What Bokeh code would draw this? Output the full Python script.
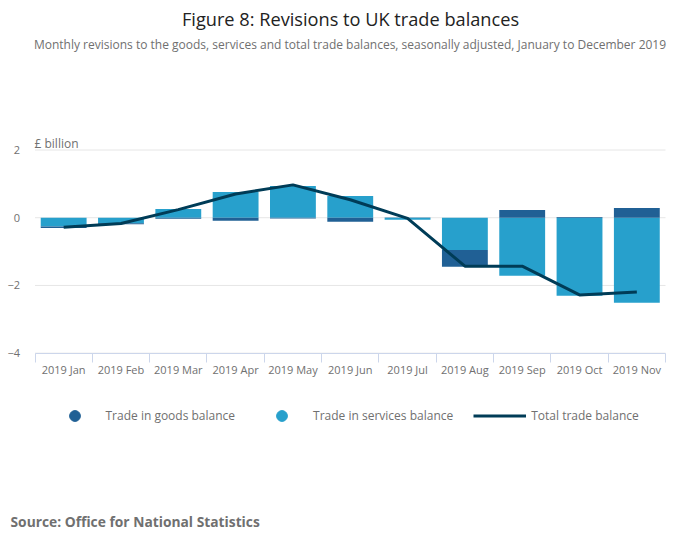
import numpy as np
from bokeh.plotting import figure
from bokeh.models import (Range1d, FixedTicker, Label, Legend, LegendItem, LinearAxis)
from bokeh.embed import file_html
from bokeh.resources import INLINE

months = ["2019 Jan", "2019 Feb", "2019 Mar", "2019 Apr", "2019 May", "2019 Jun",
          "2019 Jul", "2019 Aug", "2019 Sep", "2019 Oct", "2019 Nov"]
goods = [-0.04, -0.03, -0.03, -0.09, -0.02, -0.12, 0.01, -0.50, 0.23, 0.02, 0.29]
services = [-0.26, -0.16, 0.26, 0.76, 0.94, 0.64, -0.06, -0.95, -1.71, -2.30, -2.51]
total = [-0.28, -0.17, 0.24, 0.70, 0.97, 0.53, -0.02, -1.43, -1.43, -2.28, -2.19]
y_ticks = [-4, -2, 0, 2]

GOODS_C = "#206095"
SERV_C = "#27a0cc"
TOTAL_C = "#003c57"
TEXT_C = "#707070"
FONT = "Open Sans"

n = len(months)
xc = np.arange(n) + 0.5
y_min, y_max = y_ticks[0], y_ticks[-1]

# stacked bars: positives and negatives stacked separately (services nearest zero)
def stack(series_list):
    pos = np.zeros(n)
    neg = np.zeros(n)
    out = []
    for s in series_list:
        s = np.array(s, dtype=float)
        bottom = np.where(s >= 0, pos, neg + s)
        top = np.where(s >= 0, pos + s, neg)
        pos = np.where(s >= 0, pos + s, pos)
        neg = np.where(s < 0, neg + s, neg)
        out.append((bottom, top))
    return out

(sb, st), (gb, gt) = stack([services, goods])

# canvas geometry (pixels): plot area left/right/top/bottom
W, H = 684, 533
PL, PR, PT, PB = 34.5, 665.0, 149.5, 352.7
kx = n / (PR - PL)
ky = (y_max - y_min) / (PB - PT)
x_rng = Range1d(0 - PL * kx, n + (W - PR) * kx)
y_rng = Range1d(y_min - (H - PB) * ky, y_max + PT * ky)

p = figure(width=W, height=H, output_backend="svg", toolbar_location=None,
           x_range=x_rng, y_range=y_rng, x_axis_location=None, y_axis_location=None,
           min_border=0)
p.outline_line_color = None
p.background_fill_color = "white"
p.border_fill_color = "white"
p.xgrid.visible = False
p.ygrid.visible = False

# horizontal gridlines across the plot area only
p.segment(x0=0, x1=n, y0=y_ticks, y1=y_ticks, line_color="#e6e6e6", line_width=1)

p.vbar(x=xc, bottom=sb, top=st, width=0.8, color=SERV_C, line_color=None)
p.vbar(x=xc, bottom=gb, top=gt, width=0.8, color=GOODS_C, line_color=None)
p.line(x=xc, y=total, line_color=TOTAL_C, line_width=3)

# x axis fixed at the bottom of the value range
xa = LinearAxis(fixed_location=y_min, bounds=(0, n))
xa.ticker = FixedTicker(ticks=list(xc), minor_ticks=list(range(n + 1)))
xa.major_label_overrides = {float(c): m for c, m in zip(xc, months)}
xa.major_tick_line_color = None
xa.major_tick_out = 0
xa.major_tick_in = 0
xa.minor_tick_line_color = "#ccd6eb"
xa.minor_tick_out = 9
xa.minor_tick_in = 0
xa.axis_line_color = "#ccd6eb"
xa.major_label_standoff = 0
xa.major_label_text_font = FONT
xa.major_label_text_font_size = "11px"
xa.major_label_text_color = TEXT_C
p.add_layout(xa, "below")

ya = LinearAxis(fixed_location=0, bounds=(y_min, y_max))
ya.ticker = FixedTicker(ticks=y_ticks)
ya.axis_line_color = None
ya.major_tick_line_color = None
ya.major_tick_out = 0
ya.major_tick_in = 0
ya.minor_tick_line_color = None
ya.major_label_standoff = 15
ya.major_label_text_font = FONT
ya.major_label_text_font_size = "11px"
ya.major_label_text_color = TEXT_C
p.add_layout(ya, "left")

# legend proxies (not drawn in the plot: NaN positions)
lg = p.scatter(x=[np.nan], y=[np.nan], marker="circle", color=GOODS_C)
ls = p.scatter(x=[np.nan], y=[np.nan], marker="circle", color=SERV_C)
ll = p.line(x=[np.nan, np.nan], y=[np.nan, np.nan], line_color=TOTAL_C, line_width=3)

LEG_H = 27
legend = Legend(items=[LegendItem(label="Trade in goods balance", renderers=[lg]),
                       LegendItem(label="Trade in services balance", renderers=[ls]),
                       LegendItem(label="Total trade balance", renderers=[ll])],
                orientation="horizontal", location=(47.5, H - 402 - LEG_H),
                glyph_width=53, glyph_height=LEG_H, label_standoff=5, spacing=20,
                padding=0, margin=0, border_line_color=None, background_fill_alpha=0,
                label_text_font=FONT, label_text_font_size="12px",
                label_text_color=TEXT_C, label_height=LEG_H)
p.add_layout(legend, "center")

def lab(text, x, y, size, color, align="left", style="normal"):
    p.add_layout(Label(x=x, y=H - y, x_units="screen", y_units="screen", text=text,
                       text_font=FONT, text_font_size=size, text_color=color,
                       text_align=align, text_baseline="middle", text_font_style=style))

lab("Figure 8: Revisions to UK trade balances", 350, 18, "18.2px", "#222222", align="center")
lab("Monthly revisions to the goods, services and total trade balances, seasonally adjusted, January to December 2019",
    349.5, 44, "12px", TEXT_C, align="center")
lab("£ billion", 34, 143, "12px", TEXT_C)
lab("Source: Office for National Statistics", 10, 521, "13.8px", TEXT_C, style="bold")

open("out.html", "w").write(file_html(p, INLINE))
